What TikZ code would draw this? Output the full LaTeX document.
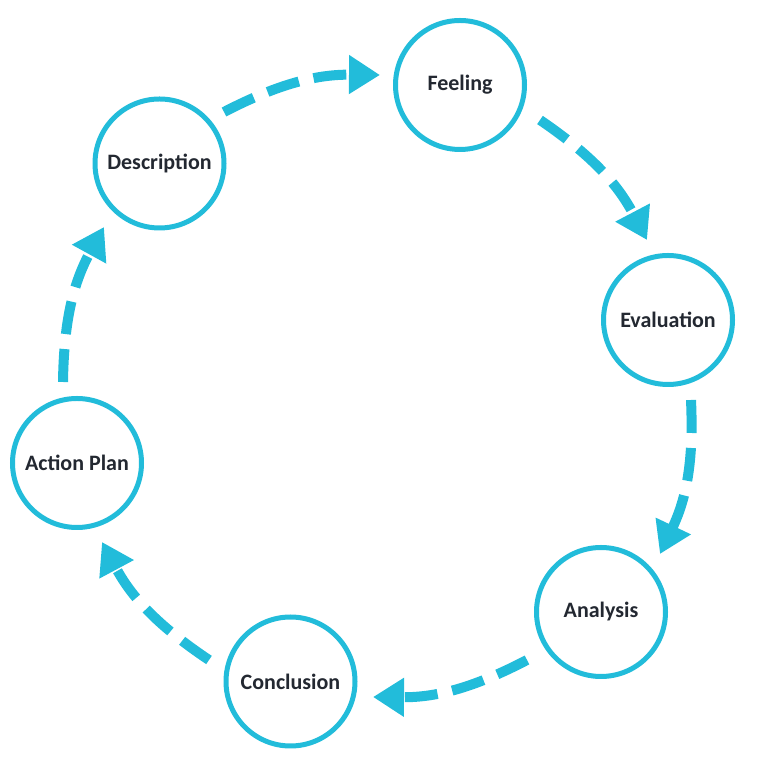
\documentclass[tikz,border=0pt]{standalone}
\usepackage{fontspec}
\setmainfont{Carlito}
\usetikzlibrary{arrows.meta}
\definecolor{ring}{HTML}{22BCDA}
\definecolor{label}{HTML}{232831}
\begin{document}
\begin{tikzpicture}[x=1pt,y=1pt,
  stage/.style={circle, draw=ring, line width=5pt, minimum size=129pt,
    inner sep=0pt, fill=white, text=label,
    font=\fontsize{22}{26}\selectfont\bfseries},
  flow/.style={draw=ring, line width=10pt,
    dash pattern=on 33pt off 15pt,
    -{Triangle[length=31pt,width=37pt]}, bend left=14}]
  \useasboundingbox (0,0) rectangle (758,757);
  % the six stages of the cycle
  \node[stage] (feel) at (460,672) {Feeling};
  \node[stage] (eval) at (668,437) {Evaluation};
  \node[stage] (anal) at (601,145) {Analysis};
  \node[stage] (conc) at (290.5,75.5) {Conclusion};
  \node[stage] (act)  at (77,294) {Action Plan};
  \node[stage] (desc) at (159.5,593.5) {Description};
  % ends of the arrows, just clear of the rings
  \coordinate (s1) at (224,645);  \coordinate (t1) at (380,682);
  \coordinate (s2) at (540,637);  \coordinate (t2) at (647,517);
  \coordinate (s3) at (691,357);  \coordinate (t3) at (660,203);
  \coordinate (s4) at (527,97);   \coordinate (t4) at (373,60);
  \coordinate (s5) at (209,97);   \coordinate (t5) at (102,215);
  \coordinate (s6) at (63,375);   \coordinate (t6) at (104,530);
  % dashed arrows running clockwise round the cycle
  \draw[flow] (s1) to (t1);
  \draw[flow] (s2) to (t2);
  \draw[flow] (s3) to (t3);
  \draw[flow] (s4) to (t4);
  \draw[flow] (s5) to (t5);
  \draw[flow] (s6) to (t6);
\end{tikzpicture}
\end{document}
